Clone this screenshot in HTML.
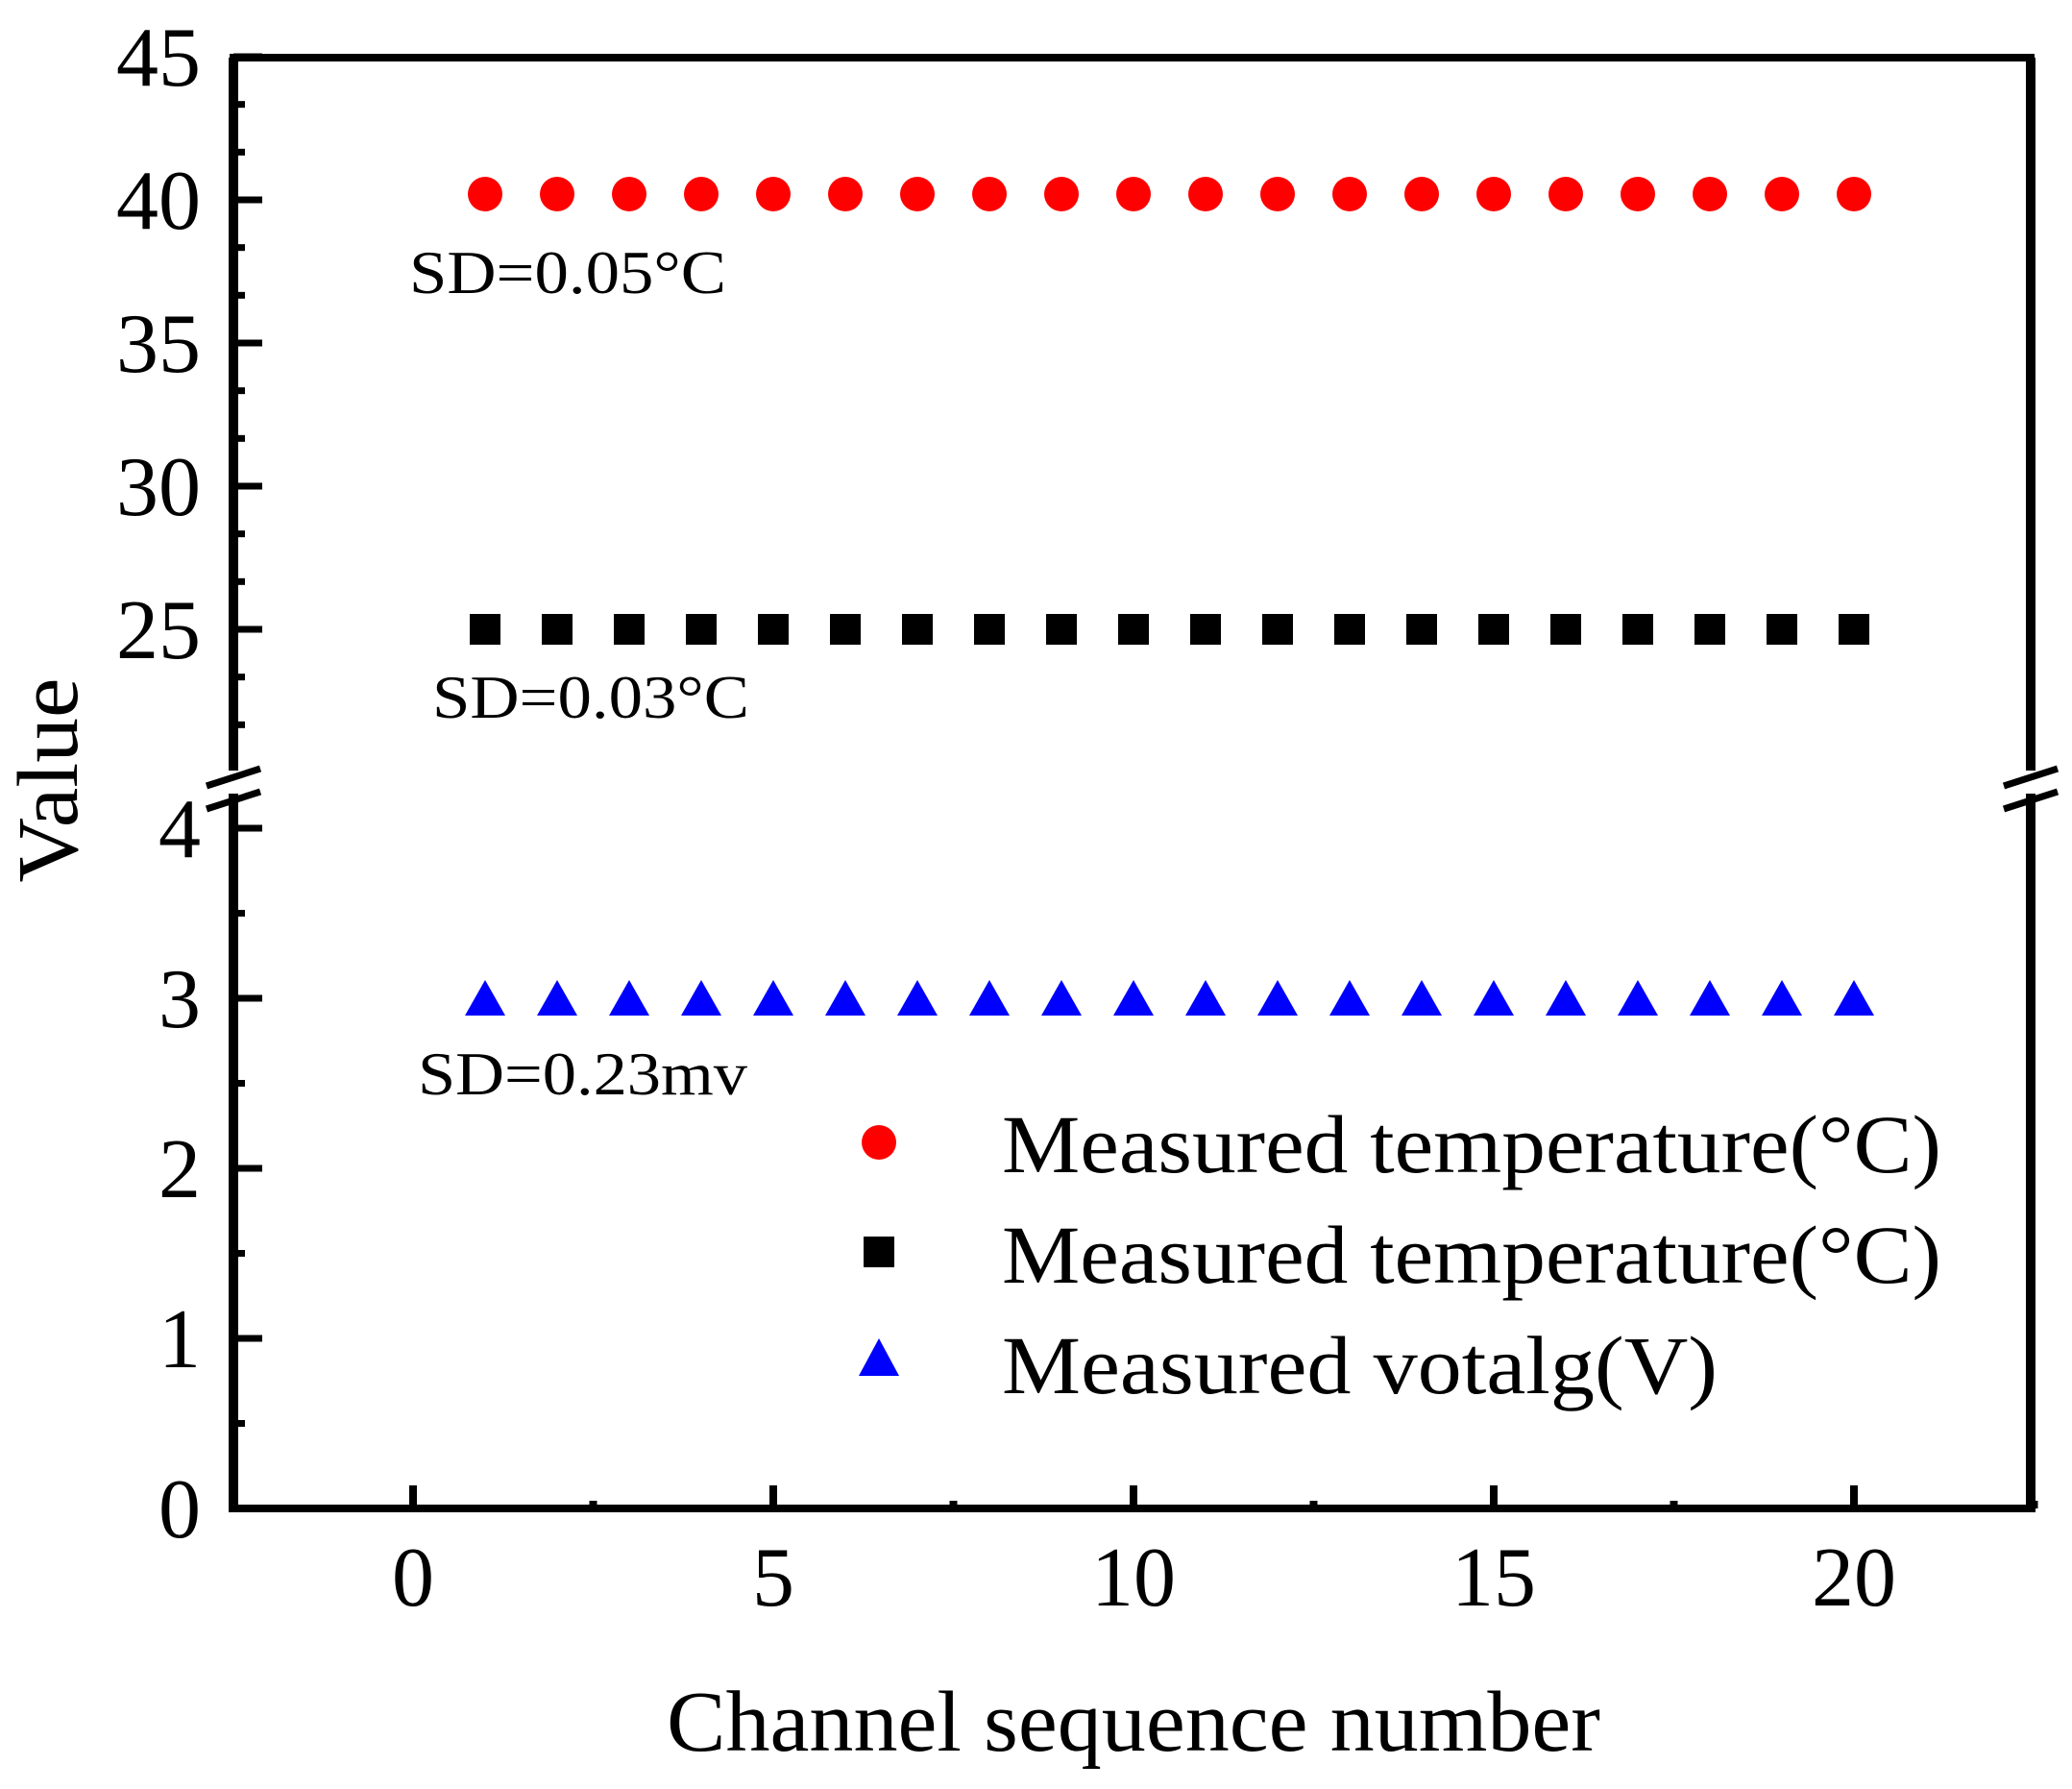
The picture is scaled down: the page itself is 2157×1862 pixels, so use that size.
<!DOCTYPE html>
<html><head><meta charset="utf-8"><style>
html,body{margin:0;padding:0;background:#fff}
svg{display:block}
text{font-family:"Liberation Serif",serif;fill:#000}
</style></head><body>
<svg id="chart" width="2157" height="1862" viewBox="0 0 2157 1862" xmlns="http://www.w3.org/2000/svg">
<g id="marks"></g>
<g id="axes"></g>
</svg>
<script>
const channels = [1,2,3,4,5,6,7,8,9,10,11,12,13,14,15,16,17,18,19,20];
const tempRed = [40.2,40.2,40.2,40.2,40.2,40.2,40.2,40.2,40.2,40.2,40.2,40.2,40.2,40.2,40.2,40.2,40.2,40.2,40.2,40.2];
const tempBlack = [25,25,25,25,25,25,25,25,25,25,25,25,25,25,25,25,25,25,25,25];
const voltage = [3,3,3,3,3,3,3,3,3,3,3,3,3,3,3,3,3,3,3,3];
const xTicks = [0,5,10,15,20];
const yTicksUpper = [25,30,35,40,45];
const yTicksLower = [0,1,2,3,4];

const NS='http://www.w3.org/2000/svg';
const L=243,R=2114,T=60,B=1570;
function sx(v){return 430+v*75;}
function sy(v){ if(v>=20) return 208+(40-v)*29.8; return 1570-v*177; }
function mk(tag,attrs,parent){const e=document.createElementNS(NS,tag);for(const k in attrs)e.setAttribute(k,attrs[k]);parent.appendChild(e);return e;}
const marks=document.getElementById('marks'), axes=document.getElementById('axes');

channels.forEach((c,i)=>{
  const a=mk('circle',{cx:sx(c),cy:sy(tempRed[i]),r:18,fill:'#ff0000'},marks);
  
  
  const b=mk('rect',{x:sx(c)-16,y:sy(tempBlack[i])-16,width:32,height:32,fill:'#000'},marks);
  
  
  const x=sx(c),y=sy(voltage[i]);
  const t=mk('polygon',{points:`${x-21},${y+18} ${x+21},${y+18} ${x},${y-19}`,fill:'#0000ff'},marks);
  
  
});

// frame
const sw=8;
mk('line',{x1:L-4,y1:T,x2:R+4,y2:T,stroke:'#000','stroke-width':sw},axes);
mk('line',{x1:L-4,y1:B,x2:R+4,y2:B,stroke:'#000','stroke-width':sw},axes);
[L,R].forEach(xx=>{
  mk('line',{x1:xx,y1:T,x2:xx,y2:802,stroke:'#000','stroke-width':10},axes);
  mk('line',{x1:xx,y1:826,x2:xx,y2:B+4,stroke:'#000','stroke-width':10},axes);
  mk('line',{x1:xx-28,y1:818,x2:xx+28,y2:800,stroke:'#000','stroke-width':7},axes);
  mk('line',{x1:xx-28,y1:842,x2:xx+28,y2:824,stroke:'#000','stroke-width':7},axes);
});
// y ticks
for(let v=45;v>=20.5;v-=5/3){const y=sy(v);mk('line',{x1:L,y1:y,x2:L+12,y2:y,stroke:'#000','stroke-width':7},axes);}
yTicksUpper.forEach(v=>{const y=sy(v);mk('line',{x1:L,y1:y,x2:L+30,y2:y,stroke:'#000','stroke-width':7},axes);
  const t=mk('text',{x:209,y:y+30,'font-size':88,'text-anchor':'end'},axes);t.textContent=v;
  });
for(let v=0.5;v<4;v+=1){const y=sy(v);mk('line',{x1:L,y1:y,x2:L+12,y2:y,stroke:'#000','stroke-width':7},axes);}
yTicksLower.forEach(v=>{const y=sy(v);mk('line',{x1:L,y1:y,x2:L+30,y2:y,stroke:'#000','stroke-width':7},axes);
  const t=mk('text',{x:209,y:y+30,'font-size':88,'text-anchor':'end'},axes);t.textContent=v;
  });
// x ticks
xTicks.forEach(v=>{const x=sx(v);mk('line',{x1:x,y1:B,x2:x,y2:B-24,stroke:'#000','stroke-width':8},axes);
  const t=mk('text',{x:x,y:1671,'font-size':88,'text-anchor':'middle'},axes);t.textContent=v;
  });
for(let v=2.5;v<=22.5;v+=5){const x=sx(v);mk('line',{x1:x,y1:B,x2:x,y2:B-8,stroke:'#000','stroke-width':8},axes);}
</script>
<svg style="position:absolute;left:0;top:0" width="2157" height="1862">
<text x="1180" y="1822" font-size="90" text-anchor="middle" textLength="972" lengthAdjust="spacingAndGlyphs">Channel sequence number</text>
<text transform="translate(80,812) rotate(-90)" font-size="90" text-anchor="middle" textLength="213" lengthAdjust="spacingAndGlyphs">Value</text>
<text x="426" y="305" font-size="64" textLength="330" lengthAdjust="spacingAndGlyphs">SD=0.05°C</text>
<text x="450" y="747" font-size="64" textLength="330" lengthAdjust="spacingAndGlyphs">SD=0.03°C</text>
<text x="435" y="1139" font-size="64" textLength="343" lengthAdjust="spacingAndGlyphs">SD=0.23mv</text>
<g>
<circle cx="915" cy="1189" r="18" fill="#ff0000"/>
<text x="1043" y="1220" font-size="86" textLength="978" lengthAdjust="spacingAndGlyphs">Measured temperature(°C)</text>
<rect x="899" y="1287" width="32" height="32" fill="#000"/>
<text x="1043" y="1335" font-size="86" textLength="978" lengthAdjust="spacingAndGlyphs">Measured temperature(°C)</text>
<polygon points="894,1432 936,1432 915,1393" fill="#0000ff"/>
<text x="1043" y="1450" font-size="86" textLength="745" lengthAdjust="spacingAndGlyphs">Measured votalg(V)</text>
</g>
</svg>
</body></html>
